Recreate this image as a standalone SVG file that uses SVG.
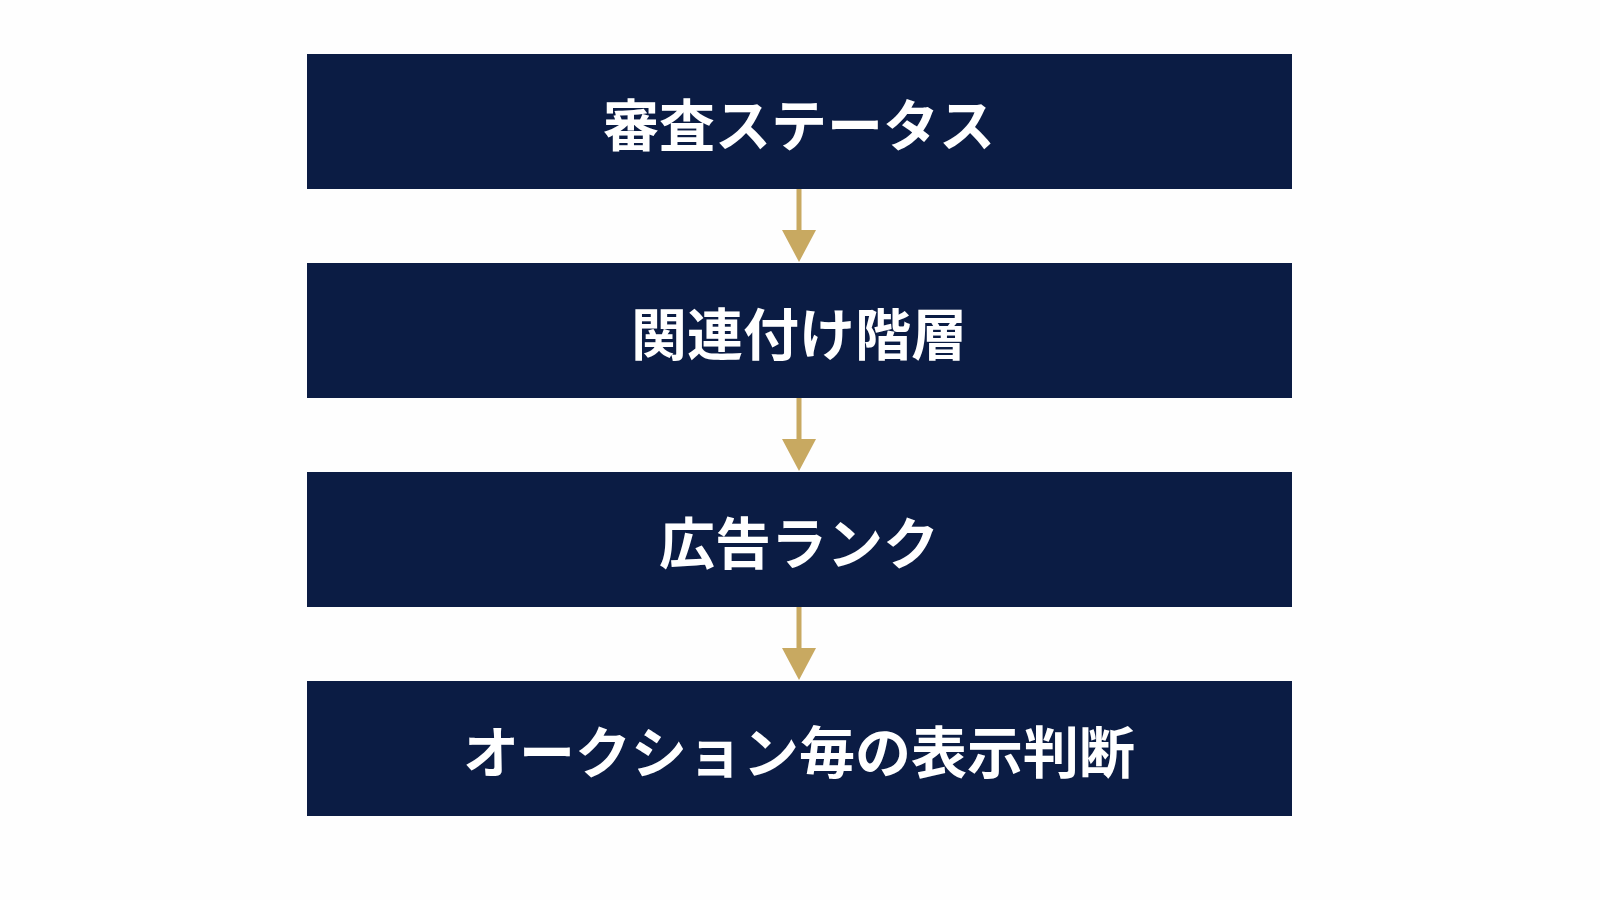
<svg xmlns="http://www.w3.org/2000/svg" width="1600" height="900" viewBox="0 0 1600 900">
<defs><style>
.box{fill:#0B1C44}
.t{fill:#fff;font-family:"Noto Sans CJK JP",sans-serif;font-weight:bold;font-size:56px;text-anchor:middle;dominant-baseline:central}
.ln{stroke:#C8A961;stroke-width:5}
.ah{fill:#C8A961}
</style></defs>
<rect width="1600" height="900" fill="#FEFEFE"/>
<g id="connectors">
<line class="ln" x1="799" y1="189" x2="799" y2="232"/><polygon class="ah" points="782,230 816,230 799,262"/>
<line class="ln" x1="799" y1="398" x2="799" y2="441"/><polygon class="ah" points="782,439 816,439 799,471"/>
<line class="ln" x1="799" y1="607" x2="799" y2="650"/><polygon class="ah" points="782,648 816,648 799,680"/>
</g>
<g id="n1"><rect class="box" x="307" y="54" width="985" height="135"/><text class="t" x="799" y="121">審査ステータス</text></g>
<g id="n2"><rect class="box" x="307" y="263" width="985" height="135"/><text class="t" x="799" y="330">関連付け階層</text></g>
<g id="n3"><rect class="box" x="307" y="472" width="985" height="135"/><text class="t" x="799" y="539">広告ランク</text></g>
<g id="n4"><rect class="box" x="307" y="681" width="985" height="135"/><text class="t" x="799" y="748">オークション毎の表示判断</text></g>
</svg>
